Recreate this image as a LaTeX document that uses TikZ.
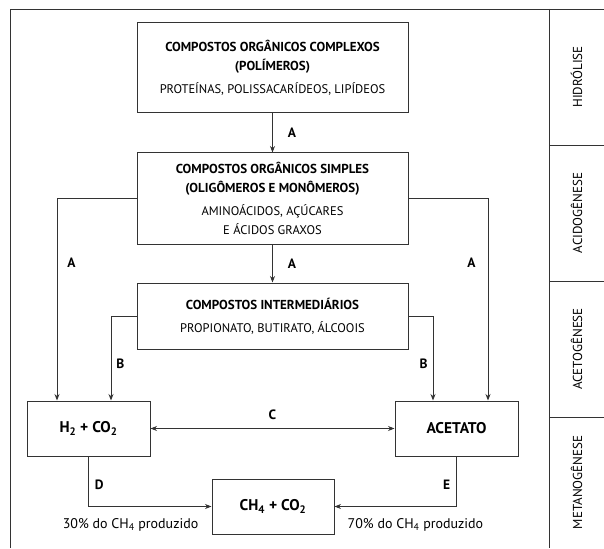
\documentclass[tikz,border=0pt]{standalone}
\usepackage{fontspec}
\setmainfont{PT Sans}
\usetikzlibrary{arrows.meta,positioning}

\newcommand{\titulo}{\bfseries\fontsize{13}{19}\selectfont}
\newcommand{\texto}{\fontsize{12.5}{19}\selectfont}

\tikzset{
	moldura/.style={line width=0.9pt, draw=black!80},
	caixa/.style={draw=black!80, line width=1pt, inner sep=0pt, align=center, font=\fontsize{13}{19}\selectfont},
	rotulo/.style={font=\bfseries\fontsize{15.5}{18}\selectfont},
	letra/.style={font=\bfseries\fontsize{13.5}{16}\selectfont, inner sep=1pt},
	fase/.style={font=\fontsize{13}{15}\selectfont, rotate=90},
	porcento/.style={font=\fontsize{14}{16}\selectfont, inner sep=0pt},
	seta/.style={-{Stealth[length=6.5pt,width=5pt]}, line width=0.9pt, draw=black!80},
	setadupla/.style={{Stealth[length=6.5pt,width=5pt]}-{Stealth[length=6.5pt,width=5pt]}, line width=0.9pt, draw=black!80},
}

\begin{document}
\begin{tikzpicture}[x=1pt,y=-1pt]
		\useasboundingbox (0,0) rectangle (604,548);
		%%frame and phases
		\draw[moldura] (10,548) -- (10,9) -- (604,9);
		\draw[moldura] (549,9) -- (549,548);
		\foreach \y in {145,281,417}
			\draw[moldura] (549,\y) -- (604,\y);
		\node[fase] (hidrolise) at (576.5,77) {HIDRÓLISE};
		\node[fase] (acidogenese) at (576.5,213) {ACIDOGÊNESE};
		\node[fase] (acetogenese) at (576.5,349) {ACETOGÊNESE};
		\node[fase] (metanogenese) at (576.5,482.5) {METANOGÊNESE};
		%%nodes
		\node[caixa, minimum width=271pt, minimum height=90pt] (complexos) at (272.5,68) {{\titulo COMPOSTOS ORGÂNICOS COMPLEXOS}\\{\titulo (POLÍMEROS)}\\[4pt]{\texto PROTEÍNAS, POLISSACARÍDEOS, LIPÍDEOS}};
		\node[caixa, minimum width=271pt, minimum height=91pt] (simples) at (272.5,198.5) {{\titulo COMPOSTOS ORGÂNICOS SIMPLES}\\{\titulo (OLIGÔMEROS E MONÔMEROS)}\\[4pt]{\texto AMINOÁCIDOS, AÇÚCARES}\\{\texto E ÁCIDOS GRAXOS}};
		\node[caixa, minimum width=271pt, minimum height=66pt] (intermed) at (272.5,316) {{\titulo COMPOSTOS INTERMEDIÁRIOS}\\[4pt]{\texto PROPIONATO, BUTIRATO, ÁLCOOIS}};
		\node[caixa, rotulo, minimum width=123pt, minimum height=55pt] (h2) at (88.5,428.5) {H\textsubscript{2} + CO\textsubscript{2}};
		\node[caixa, rotulo, minimum width=123pt, minimum height=55pt] (acetato) at (456.5,428.5) {ACETATO};
		\node[caixa, rotulo, minimum width=122pt, minimum height=55pt] (metano) at (273,506.5) {CH\textsubscript{4} + CO\textsubscript{2}};
		\node[porcento, anchor=east] (pct30) at ([xshift=-13pt,yshift=10pt]metano.south west) {30\% do CH\textsubscript{4} produzido};
		\node[porcento, anchor=west] (pct70) at ([xshift=13pt,yshift=10pt]metano.south east) {70\% do CH\textsubscript{4} produzido};
		%%arrows
		\draw[seta] (complexos) -- node[letra, right=14pt] {A} (simples);
		\draw[seta] (simples) -- node[letra, right=14pt] {A} (intermed);
		\draw[seta] (simples.west) -| node[letra, pos=0.66, right=9pt] {A} ([xshift=-31.5pt]h2.north);
		\draw[seta] (simples.east) -| node[letra, pos=0.66, left=11pt] {A} ([xshift=31.5pt]acetato.north);
		\draw[seta] (intermed.west) -| node[letra, pos=0.78, right=4pt] {B} ([xshift=22.5pt]h2.north);
		\draw[seta] (intermed.east) -| node[letra, pos=0.78, left=4pt] {B} ([xshift=-23.5pt]acetato.north);
		\draw[setadupla] (h2) -- node[letra, above=7pt] {C} (acetato);
		\draw[seta] (h2.south) |- node[letra, pos=0.28, right=5pt] {D} (metano.west);
		\draw[seta] (acetato.south) |- node[letra, pos=0.28, left=5pt] {E} (metano.east);
	\end{tikzpicture}
\end{document}
